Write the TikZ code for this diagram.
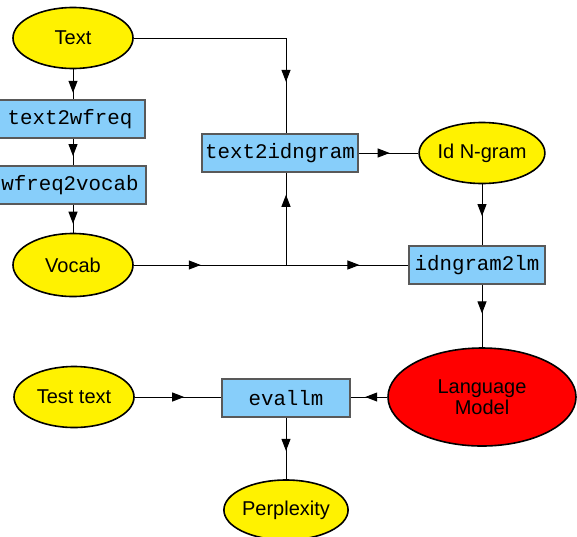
\documentclass[tikz,border=0pt]{standalone}
\usepackage{fontspec}
\setmainfont{Liberation Sans}
\setmonofont{Liberation Mono}
\usetikzlibrary{shapes.geometric,arrows.meta,decorations.markings}
\definecolor{boxblue}{HTML}{87CEFA}
\begin{document}
\begin{tikzpicture}[x=1pt,y=-1pt,
  oval/.style={ellipse,draw=black,line width=1.6pt,fill=yellow,inner sep=0pt,
    minimum width=120pt,minimum height=61pt,font=\fontsize{20}{21}\selectfont},
  prog/.style={rectangle,draw=black!65,line width=1.2pt,fill=boxblue,inner sep=0pt,
    minimum height=38pt,font=\ttfamily\fontsize{20.8}{22}\selectfont},
  conn/.style={line width=1pt},
  arrowat/.style={conn,postaction={decorate},
    decoration={markings,mark=at position #1 with {\arrow{Triangle[length=12pt,width=9pt]}}}},
]
\useasboundingbox (0,0) rectangle (577,536);
\fill[white] (0,0) rectangle (577,536);

\node[oval] (text) at (73,38) {Text};
\node[prog,minimum width=150pt] (t2w) at (70,119) {text2wfreq};
\node[prog,minimum width=152pt] (w2v) at (70,185) {wfreq2vocab};
\node[oval,minimum height=63pt] (vocab) at (73,265) {Vocab};
\node[prog,minimum width=156pt] (t2i) at (280,153) {text2idngram};
\node[oval] (idn) at (482,153) {Id N-gram};
\node[prog,minimum width=136pt] (i2l) at (477,265) {idngram2lm};
\node[ellipse,draw=black,line width=1.6pt,fill=red,inner sep=0pt,
  minimum width=188pt,minimum height=98pt,align=center,
  font=\fontsize{20}{21}\selectfont] (lm) at (482,397) {Language\\Model};
\node[oval] (test) at (74,397) {Test text};
\node[prog,minimum width=128pt] (eval) at (286,398) {evallm};
\node[oval,minimum height=60pt] (perp) at (286,510) {Perplexity};

\coordinate (j1) at (286,38);
\coordinate (j2) at (286,265);

\draw[arrowat=0.78] (text.south) -- (text.south |- t2w.north);
\draw[arrowat=0.65] (text.south |- t2w.south) -- (text.south |- w2v.north);
\draw[arrowat=0.68] (text.south |- w2v.south) -- (vocab.north);
\draw[conn] (text.east) -- (j1);
\draw[arrowat=0.46] (j1) -- (j1 |- t2i.north);
\draw[arrowat=0.44] (vocab.east) -- (j2);
\draw[arrowat=0.60] (j2) -- (i2l.west);
\draw[arrowat=0.76] (j2) -- (j2 |- t2i.south);
\draw[arrowat=0.52] (t2i.east) -- (idn.west);
\draw[arrowat=0.52] (idn.south) -- (idn.south |- i2l.north);
\draw[arrowat=0.46] (idn.south |- i2l.south) -- (lm.north);
\draw[arrowat=0.57] (test.east) -- (test.east -| eval.west);
\draw[arrowat=0.60] (lm.west) -- (lm.west -| eval.east);
\draw[arrowat=0.54] (eval.south) -- (perp.north);
\end{tikzpicture}
\end{document}
